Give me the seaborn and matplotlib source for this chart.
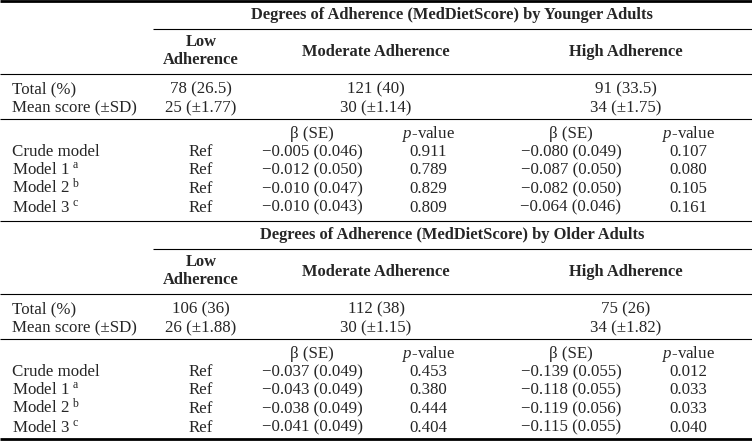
import matplotlib
matplotlib.use("Agg")
import matplotlib.pyplot as plt
import seaborn as sns

# ---------------- data ----------------
groups = ["Younger Adults", "Older Adults"]
levels = ["Low\nAdherence", "Moderate Adherence", "High Adherence"]
models = ["Crude model", "Model 1", "Model 2", "Model 3"]
model_sup = ["", "a", "b", "c"]

young_total = ["78 (26.5)", "121 (40)", "91 (33.5)"]
young_mean = ["25 (\u00b11.77)", "30 (\u00b11.14)", "34 (\u00b11.75)"]
young_mod_beta = ["\u22120.005 (0.046)", "\u22120.012 (0.050)", "\u22120.010 (0.047)", "\u22120.010 (0.043)"]
young_mod_p = ["0.911", "0.789", "0.829", "0.809"]
young_high_beta = ["\u22120.080 (0.049)", "\u22120.087 (0.050)", "\u22120.082 (0.050)", "\u22120.064 (0.046)"]
young_high_p = ["0.107", "0.080", "0.105", "0.161"]

old_total = ["106 (36)", "112 (38)", "75 (26)"]
old_mean = ["26 (\u00b11.88)", "30 (\u00b11.15)", "34 (\u00b11.82)"]
old_mod_beta = ["\u22120.037 (0.049)", "\u22120.043 (0.049)", "\u22120.038 (0.049)", "\u22120.041 (0.049)"]
old_mod_p = ["0.453", "0.380", "0.444", "0.404"]
old_high_beta = ["\u22120.139 (0.055)", "\u22120.118 (0.055)", "\u22120.119 (0.056)", "\u22120.115 (0.055)"]
old_high_p = ["0.012", "0.033", "0.033", "0.040"]

sections = [
    (groups[0], young_total, young_mean, young_mod_beta, young_mod_p, young_high_beta, young_high_p),
    (groups[1], old_total, old_mean, old_mod_beta, old_mod_p, old_high_beta, old_high_p),
]

# ---------------- style ----------------
sns.set_theme(style="white")
plt.rcParams["font.family"] = ["Liberation Serif", "DejaVu Serif"]
plt.rcParams["mathtext.fontset"] = "custom"
plt.rcParams["mathtext.rm"] = "Liberation Serif"
plt.rcParams["mathtext.it"] = "Liberation Serif:italic"
FS = 12.2

fig = plt.figure(figsize=(7.52, 4.42), dpi=100)
ax = fig.add_axes([0, 0, 1, 1])
ax.set_xlim(0, 752)
ax.set_ylim(442, 0)
ax.axis("off")

# column centres (pixel space)
X_LABEL = 12
X_LOW = 201
X_MOD, X_MOD_B, X_MOD_P = 376, 312, 428
X_HIGH, X_HIGH_B, X_HIGH_P = 626, 571, 688
SEC_H = 220
BL = 5  # centre -> baseline offset


def cell(x, y, s, ha="center", **kw):
    ax.text(x, y + BL, s, ha=ha, va="baseline", fontsize=FS, **kw)


for i, (grp, total, mean, mb, mp, hb, hp) in enumerate(sections):
    y0 = i * SEC_H
    # rules
    ax.hlines(y0 + 29, 153, 752, color="black", lw=0.8)
    for yy in (74, 119):
        ax.hlines(y0 + yy, 0, 752, color="black", lw=0.8)
    ax.text(452, y0 + 15, f"Degrees of Adherence (MedDietScore) by {grp}",
            ha="center", va="center", fontsize=FS - 0.3, fontweight="bold")
    ax.text(X_LOW, y0 + 51, levels[0], ha="center", va="center",
            fontsize=FS - 0.3, fontweight="bold", linespacing=1.25)
    ax.text(X_MOD, y0 + 52, levels[1], ha="center", va="center",
            fontsize=FS - 0.3, fontweight="bold")
    ax.text(X_HIGH, y0 + 52, levels[2], ha="center", va="center",
            fontsize=FS - 0.3, fontweight="bold")

    cell(X_LABEL, y0 + 88, "Total (%)", ha="left")
    cell(X_LABEL, y0 + 107, "Mean score (\u00b1SD)", ha="left")
    for x, t, m in zip((X_LOW, X_MOD, X_HIGH), total, mean):
        cell(x, y0 + 88, t)
        cell(x, y0 + 107, m)

    for x, h in ((X_MOD_B, "\u03b2 (SE)"), (X_MOD_P, "$p$-value"),
                 (X_HIGH_B, "\u03b2 (SE)"), (X_HIGH_P, "$p$-value")):
        cell(x, y0 + 133, h)

    for j, (name, sup) in enumerate(zip(models, model_sup)):
        yy = y0 + 151 + j * 18.5
        label = name + (f"$\\ ^{{\\mathrm{{{sup}}}}}$" if sup else "")
        cell(X_LABEL, yy, label, ha="left")
        cell(X_LOW, yy, "Ref")
        cell(X_MOD_B, yy, mb[j])
        cell(X_MOD_P, yy, mp[j])
        cell(X_HIGH_B, yy, hb[j])
        cell(X_HIGH_P, yy, hp[j])

ax.hlines(SEC_H + 1, 0, 752, color="black", lw=0.8)
ax.hlines(1, 0, 752, color="black", lw=2)
ax.hlines(439, 0, 752, color="black", lw=2)

fig.savefig("out.png", dpi=100)
